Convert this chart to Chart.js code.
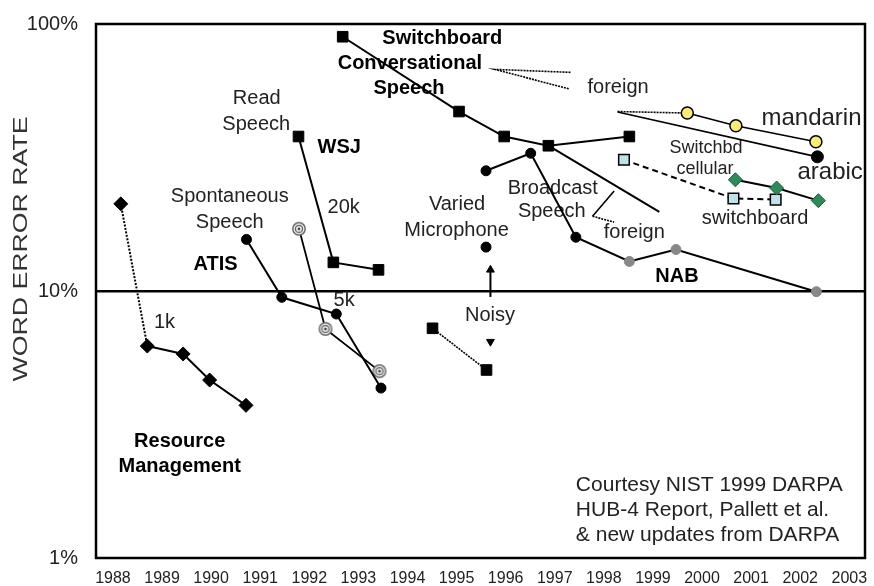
<!DOCTYPE html>
<html>
<head>
<meta charset="utf-8">
<title>Word error rate</title>
<script src="https://cdn.jsdelivr.net/npm/chart.js@4.4.1/dist/chart.umd.min.js"></script>
<style>
  html, body { margin: 0; padding: 0; background: #fff; }
  canvas { display: block; }
</style>
</head>
<body>
<canvas id="wer" width="874" height="586"></canvas>
<script>
const yearTicks = [1988, 1989, 1990, 1991, 1992, 1993, 1994, 1995, 1996, 1997, 1998, 1999, 2000, 2001, 2002, 2003];
const werTicks = [1, 10, 100];

// Resource Management (1k)
const rmYears = [1988.16, 1988.70, 1989.43, 1989.97, 1990.71];
const rmWer = [21.2, 6.22, 5.81, 4.64, 3.73];

// ATIS, spontaneous speech
const atisYears = [1990.72, 1991.44, 1992.55, 1993.46];
const atisWer = [15.6, 9.47, 8.2, 4.33];
const atis2Years = [1991.79, 1992.33, 1993.43];
const atis2Wer = [17.1, 7.21, 5.01];

// WSJ read speech
const wsjYears = [1991.78, 1992.49, 1993.41];
const wsjWer = [37.9, 12.8, 12.0];

// Switchboard conversational speech
const swbYears = [1992.68, 1995.05, 1995.97, 1996.87, 1998.52];
const swbWer = [89.6, 47.0, 37.9, 35.0, 37.9];

// Broadcast speech / NAB
const bnYears = [1995.60, 1996.51, 1997.43, 1998.52, 1999.47, 2002.33];
const bnWer = [28.2, 32.8, 15.9, 12.9, 14.3, 9.94];
const bnForeignYears = [1996.87, 1999.13];
const bnForeignWer = [35.0, 19.8];

// Varied microphone / noisy
const micYears = [1995.60];
const micWer = [14.6];
const noisyYears = [1994.51, 1995.61];
const noisyWer = [7.25, 5.06];
const noisyMarkYears = [1995.69];
const noisyMarkWer = [6.46];
const arrowYears = [1995.69, 1995.69];
const arrowWer = [9.5, 12.0];

// foreign conversational: mandarin, arabic
const mandarinYears = [1998.28, 1999.70, 2000.69, 2002.32];
const mandarinWer = [47.0, 46.4, 41.6, 36.2];
const arabicYears = [1998.28, 2002.35];
const arabicWer = [46.8, 31.8];

// Switchboard cellular and switchboard
const cellYears = [1998.41, 2000.64, 2001.50];
const cellWer = [31.0, 22.2, 22.0];
const swb2Years = [2000.68, 2001.52, 2002.37];
const swb2Wer = [26.1, 24.3, 21.8];

// callout strokes
const swbCalloutYears = [1997.32, 1995.78, 1997.30];
const swbCalloutWer = [65.9, 67.6, 57.1];
const bnCalloutYears = [1998.21, 1997.77, 1998.21];
const bnCalloutWer = [23.7, 19.05, 18.1];

const notes = [
  { text: 'Switchboard', x: 1994.71, y: 87.9, kind: 'bold' },
  { text: 'Conversational', x: 1994.05, y: 71.4, kind: 'bold' },
  { text: 'Speech', x: 1994.03, y: 57.1, kind: 'bold' },
  { text: 'foreign', x: 1998.29, y: 57.6 },
  { text: 'Read', x: 1990.93, y: 52.4 },
  { text: 'Speech', x: 1990.92, y: 41.9 },
  { text: 'WSJ', x: 1992.61, y: 34.6, kind: 'bold' },
  { text: 'Spontaneous', x: 1990.38, y: 22.5 },
  { text: 'Speech', x: 1990.38, y: 18.0 },
  { text: 'ATIS', x: 1990.09, y: 12.6, kind: 'bold' },
  { text: '20k', x: 1992.70, y: 20.5 },
  { text: '5k', x: 1992.71, y: 9.25 },
  { text: '1k', x: 1989.05, y: 7.59 },
  { text: 'Resource', x: 1989.36, y: 2.74, kind: 'bold' },
  { text: 'Management', x: 1989.36, y: 2.21, kind: 'bold' },
  { text: 'Varied', x: 1995.01, y: 21.0 },
  { text: 'Microphone', x: 1995.00, y: 16.8 },
  { text: 'Broadcast', x: 1996.96, y: 24.3 },
  { text: 'Speech', x: 1996.94, y: 19.8 },
  { text: 'foreign', x: 1998.62, y: 16.6 },
  { text: 'NAB', x: 1999.49, y: 11.3, kind: 'bold' },
  { text: 'Noisy', x: 1995.68, y: 8.13 },
  { text: 'mandarin', x: 2002.23, y: 44.5, kind: 'big' },
  { text: 'arabic', x: 2002.61, y: 27.9, kind: 'big' },
  { text: 'Switchbd', x: 2000.08, y: 34.4, kind: 'small' },
  { text: 'cellular', x: 2000.06, y: 28.6, kind: 'small' },
  { text: 'switchboard', x: 2001.08, y: 18.7 },
  { text: 'Courtesy NIST 1999 DARPA', x: 1997.43, y: 1.87, kind: 'credit' },
  { text: 'HUB-4 Report, Pallett et al.', x: 1997.43, y: 1.51, kind: 'credit' },
  { text: '& new updates from DARPA', x: 1997.43, y: 1.22, kind: 'credit' }
];

const FONT = '"Liberation Sans", Arial, Helvetica, sans-serif';
const noteFonts = {
  plain: '20px ' + FONT,
  bold: 'bold 20px ' + FONT,
  big: '24px ' + FONT,
  small: '18px ' + FONT,
  credit: '21px ' + FONT
};

const pts = (xs, ys) => xs.map((x, i) => ({ x, y: ys[i] }));

// concentric-circle marker used by the second ATIS series
function targetMarker() {
  const c = document.createElement('canvas');
  c.width = 16;
  c.height = 16;
  const g = c.getContext('2d');
  g.fillStyle = '#fff';
  g.beginPath(); g.arc(8, 8, 6.5, 0, Math.PI * 2); g.fill();
  g.strokeStyle = '#666';
  g.lineWidth = 1.5;
  g.beginPath(); g.arc(8, 8, 6.2, 0, Math.PI * 2); g.stroke();
  g.beginPath(); g.arc(8, 8, 3.6, 0, Math.PI * 2); g.stroke();
  g.fillStyle = '#444';
  g.beginPath(); g.arc(8, 8, 1.5, 0, Math.PI * 2); g.fill();
  return c;
}

const firstDotted = (dash) => ({ borderDash: ctx => ctx.p0DataIndex === 0 ? dash : undefined });

const line = (data, extra) => Object.assign({
  data,
  showLine: true,
  borderColor: '#000',
  borderWidth: 2,
  pointBackgroundColor: '#000',
  pointBorderColor: '#000',
  pointBorderWidth: 1,
  pointRadius: 5
}, extra);

const notesPlugin = {
  id: 'notes',
  beforeDatasetsDraw(chart) {
    const { ctx, chartArea: a, scales: { x, y } } = chart;
    ctx.save();
    ctx.textBaseline = 'middle';
    notes.forEach(n => {
      const kind = n.kind || 'plain';
      ctx.font = noteFonts[kind];
      ctx.fillStyle = kind === 'bold' ? '#000' : '#222';
      ctx.textAlign = kind === 'credit' ? 'left' : 'center';
      ctx.fillText(n.text, x.getPixelForValue(n.x), y.getPixelForValue(n.y));
    });
    // plot frame
    ctx.strokeStyle = '#000';
    ctx.lineWidth = 2.5;
    ctx.strokeRect(a.left, a.top, a.right - a.left, a.bottom - a.top);

    // axis title, stretched like the original
    ctx.translate(21, 249);
    ctx.rotate(-Math.PI / 2);
    ctx.font = '20px ' + FONT;
    ctx.fillStyle = '#333';
    ctx.textAlign = 'center';
    const w = ctx.measureText('WORD ERROR RATE').width;
    ctx.scale(265 / w, 1);
    ctx.fillText('WORD ERROR RATE', 0, 0);
    ctx.restore();
  }
};

new Chart(document.getElementById('wer'), {
  type: 'scatter',
  data: {
    datasets: [
      line(pts(rmYears, rmWer), { pointStyle: 'rectRot', pointRadius: 7, segment: firstDotted([2, 1.5]) }),
      line(pts(atisYears, atisWer), {}),
      line(pts(atis2Years, atis2Wer), { borderWidth: 1.8, pointStyle: targetMarker() }),
      line(pts(wsjYears, wsjWer), { pointStyle: 'rect', pointRadius: 7.5 }),
      line(pts(swbYears, swbWer), { pointStyle: 'rect', pointRadius: 7.5 }),
      line(pts(bnForeignYears, bnForeignWer), { pointRadius: 0 }),
      line(pts(bnYears, bnWer), {
        pointBackgroundColor: ['#000', '#000', '#000', '#888', '#888', '#888'],
        pointBorderColor: ['#000', '#000', '#000', '#888', '#888', '#888']
      }),
      line(pts(micYears, micWer), { showLine: false }),
      line(pts(noisyYears, noisyWer), { borderWidth: 1.6, borderDash: [2, 1], pointStyle: 'rect', pointRadius: 7.5 }),
      line(pts(noisyMarkYears, noisyMarkWer), { showLine: false, pointStyle: 'triangle', rotation: 180, pointRadius: 4.5 }),
      line(pts(arrowYears, arrowWer), { pointStyle: 'triangle', pointRadius: [0, 4.5] }),
      line(pts(arabicYears, arabicWer), { borderWidth: 1.6, pointRadius: [0, 6] }),
      line(pts(mandarinYears, mandarinWer), {
        borderWidth: 1.6,
        segment: firstDotted([2, 1]),
        pointRadius: [0, 6, 6, 6],
        pointBackgroundColor: '#f6ec7c',
        pointBorderWidth: 1.5
      }),
      line(pts(swb2Years, swb2Wer), {
        pointStyle: 'rectRot',
        pointRadius: 7,
        pointBackgroundColor: '#2f8a5a',
        pointBorderColor: '#1d5a3a'
      }),
      line(pts(cellYears, cellWer), {
        borderDash: [6, 4],
        pointStyle: 'rect',
        pointRadius: 7.5,
        pointBackgroundColor: '#bfe2e8',
        pointBorderWidth: 1.5
      }),
      line(pts(swbCalloutYears, swbCalloutWer), { borderWidth: 1.6, borderDash: [2, 1], pointRadius: 0 }),
      line(pts(bnCalloutYears, bnCalloutWer), {
        borderWidth: 1.6,
        pointRadius: 0,
        segment: { borderDash: ctx => ctx.p0DataIndex === 1 ? [2, 1] : undefined }
      })
    ]
  },
  options: {
    responsive: false,
    animation: false,
    events: [],
    layout: { padding: { left: 0, top: 24, right: 1, bottom: 0 } },
    plugins: { legend: { display: false }, tooltip: { enabled: false } },
    scales: {
      x: {
        type: 'linear',
        min: 1987.655,
        max: 2003.32,
        afterBuildTicks: s => { s.ticks = yearTicks.map(v => ({ value: v })); },
        afterFit: s => { s.height = 28; s.paddingLeft = 0; s.paddingRight = 0; },
        grid: { display: false },
        border: { display: false },
        ticks: {
          padding: 3,
          maxRotation: 0,
          autoSkip: false,
          color: '#222',
          font: { family: FONT, size: 16 },
          callback: v => String(v)
        }
      },
      y: {
        type: 'logarithmic',
        min: 1,
        max: 100,
        afterBuildTicks: s => { s.ticks = werTicks.map(v => ({ value: v })); },
        afterFit: s => { s.width = 96; s.paddingTop = 0; s.paddingBottom = 0; },
        grid: {
          drawTicks: false,
          lineWidth: 2.5,
          color: c => (c.tick && c.tick.value === 10 ? '#000' : 'rgba(0,0,0,0)')
        },
        border: { display: false },
        ticks: {
          padding: 18,
          color: '#222',
          font: { family: FONT, size: 20 },
          callback: v => v + '%'
        }
      }
    }
  },
  plugins: [notesPlugin]
});
</script>
</body>
</html>
